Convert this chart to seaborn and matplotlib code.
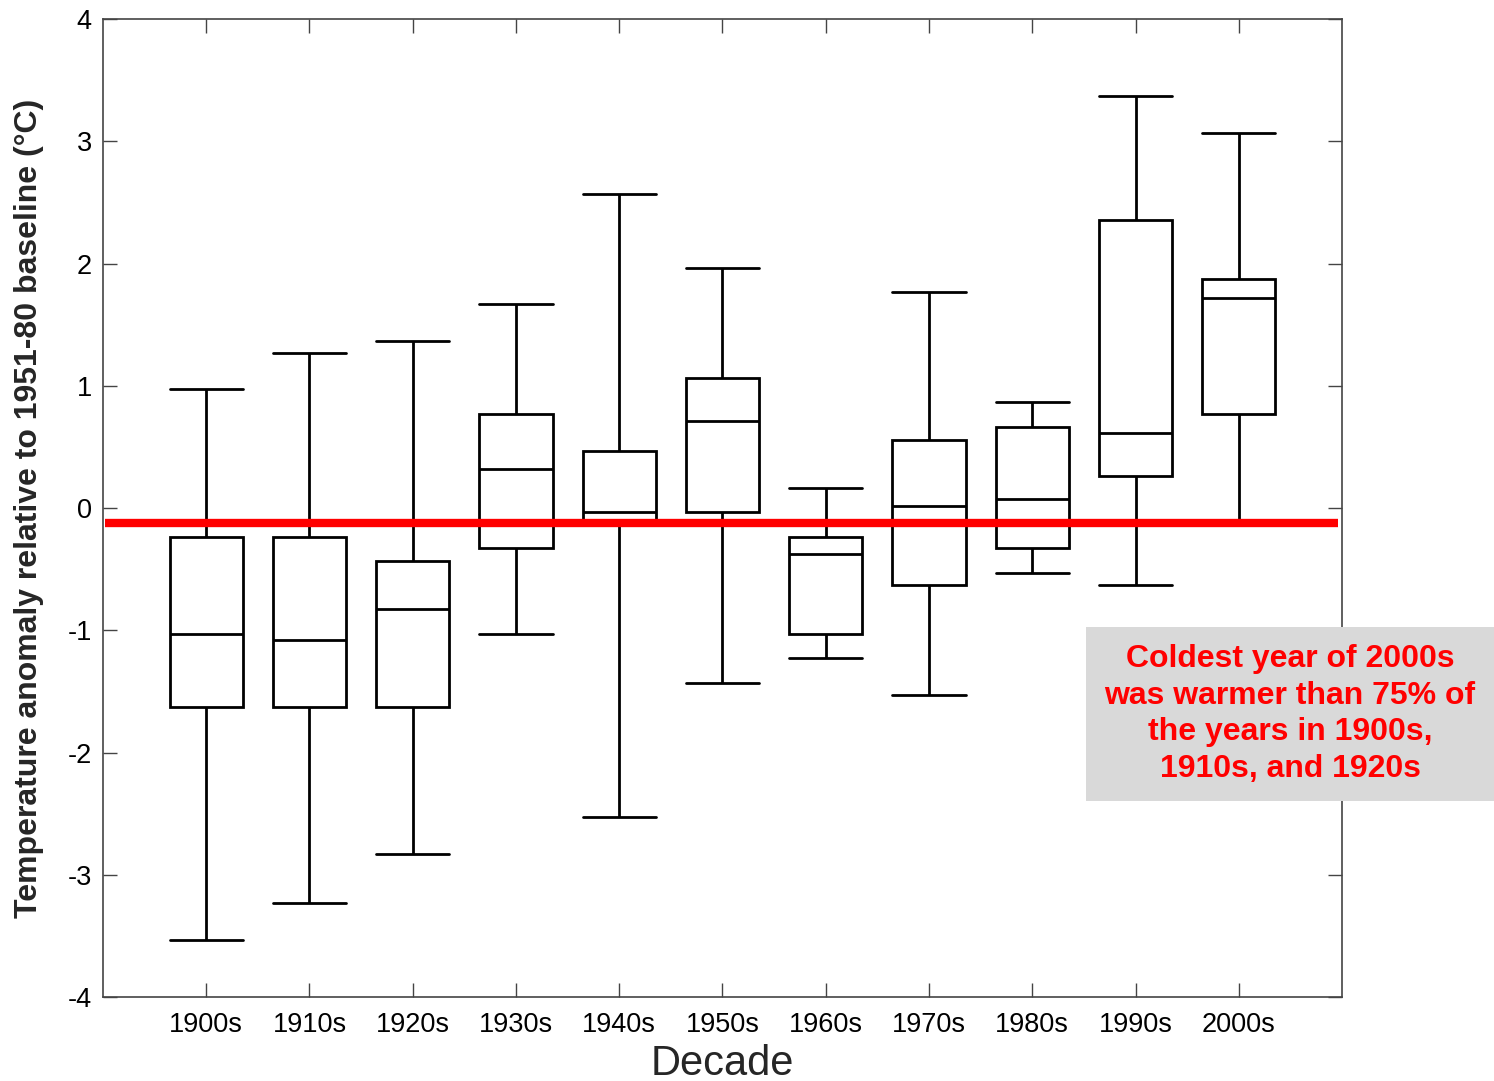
import matplotlib
matplotlib.use("Agg")
import matplotlib.pyplot as plt
from matplotlib.patches import Rectangle
import seaborn as sns
import pandas as pd

decades = ["1900s", "1910s", "1920s", "1930s", "1940s", "1950s",
           "1960s", "1970s", "1980s", "1990s", "2000s"]
mins    = [-3.53, -3.23, -2.83, -1.03, -2.53, -1.43, -1.23, -1.53, -0.53, -0.63, -0.12]
q1s     = [-1.63, -1.63, -1.63, -0.33, -0.12, -0.03, -1.03, -0.63, -0.33,  0.26,  0.77]
medians = [-1.03, -1.08, -0.83,  0.32, -0.03,  0.71, -0.38,  0.02,  0.07,  0.61,  1.72]
q3s     = [-0.24, -0.24, -0.43,  0.77,  0.47,  1.06, -0.24,  0.56,  0.66,  2.36,  1.87]
maxs    = [ 0.97,  1.27,  1.37,  1.67,  2.57,  1.96,  0.16,  1.77,  0.87,  3.37,  3.07]
baseline_line = -0.12
yticks = [-4, -3, -2, -1, 0, 1, 2, 3, 4]
annotation = "Coldest year of 2000s\nwas warmer than 75% of\nthe years in 1900s,\n1910s, and 1920s"

rows = []
for d, a, b, c, e, f in zip(decades, mins, q1s, medians, q3s, maxs):
    for v in (a, b, c, e, f):
        rows.append({"Decade": d, "Anomaly": v})
df = pd.DataFrame(rows)

sns.set_theme(style="ticks")
plt.rcParams['font.family'] = ['Liberation Sans', 'DejaVu Sans']

fig = plt.figure(figsize=(14.94, 10.81), dpi=100)
ax = fig.add_axes([0.0689, 0.0777, 0.8294, 0.9047])

sns.boxplot(data=df, x="Decade", y="Anomaly", order=decades, whis=(0, 100),
            width=0.71, color="white", linecolor="black", linewidth=2,
            showfliers=False, capwidths=0.71, ax=ax)

ax.plot([-0.98, 10.96], [baseline_line, baseline_line], color="#ff0000",
        linewidth=6, solid_capstyle="butt", zorder=5)

ax.set_xlim(-1, 11)
ax.set_ylim(-4, 4)
ax.set_yticks(yticks)
ax.set_yticklabels([str(t) for t in yticks])
ax.tick_params(direction="in", top=True, right=True, length=10, width=1,
               colors="#444444", labelcolor="black", labelsize=19.5)
ax.tick_params(axis="x", pad=11)
ax.tick_params(axis="y", pad=8)
for s in ax.spines.values():
    s.set_visible(True)
    s.set_color("#444444")
    s.set_linewidth(1.2)

ax.set_xlabel("Decade", fontsize=30, labelpad=4)
ax.set_ylabel("Temperature anomaly relative to 1951-80 baseline (\u00b0C)",
              fontsize=23, fontweight="bold", labelpad=17)

rect = Rectangle((0.7269, 0.259), 0.2731, 0.161, transform=fig.transFigure,
                 facecolor="#d9d9d9", edgecolor="none", zorder=10)
fig.add_artist(rect)
fig.text(0.8635, 0.3395, annotation, ha="center", va="center", color="#ff0000",
         fontsize=23, fontweight="bold", linespacing=1.30, zorder=11)

fig.savefig("out.png", dpi=100)
